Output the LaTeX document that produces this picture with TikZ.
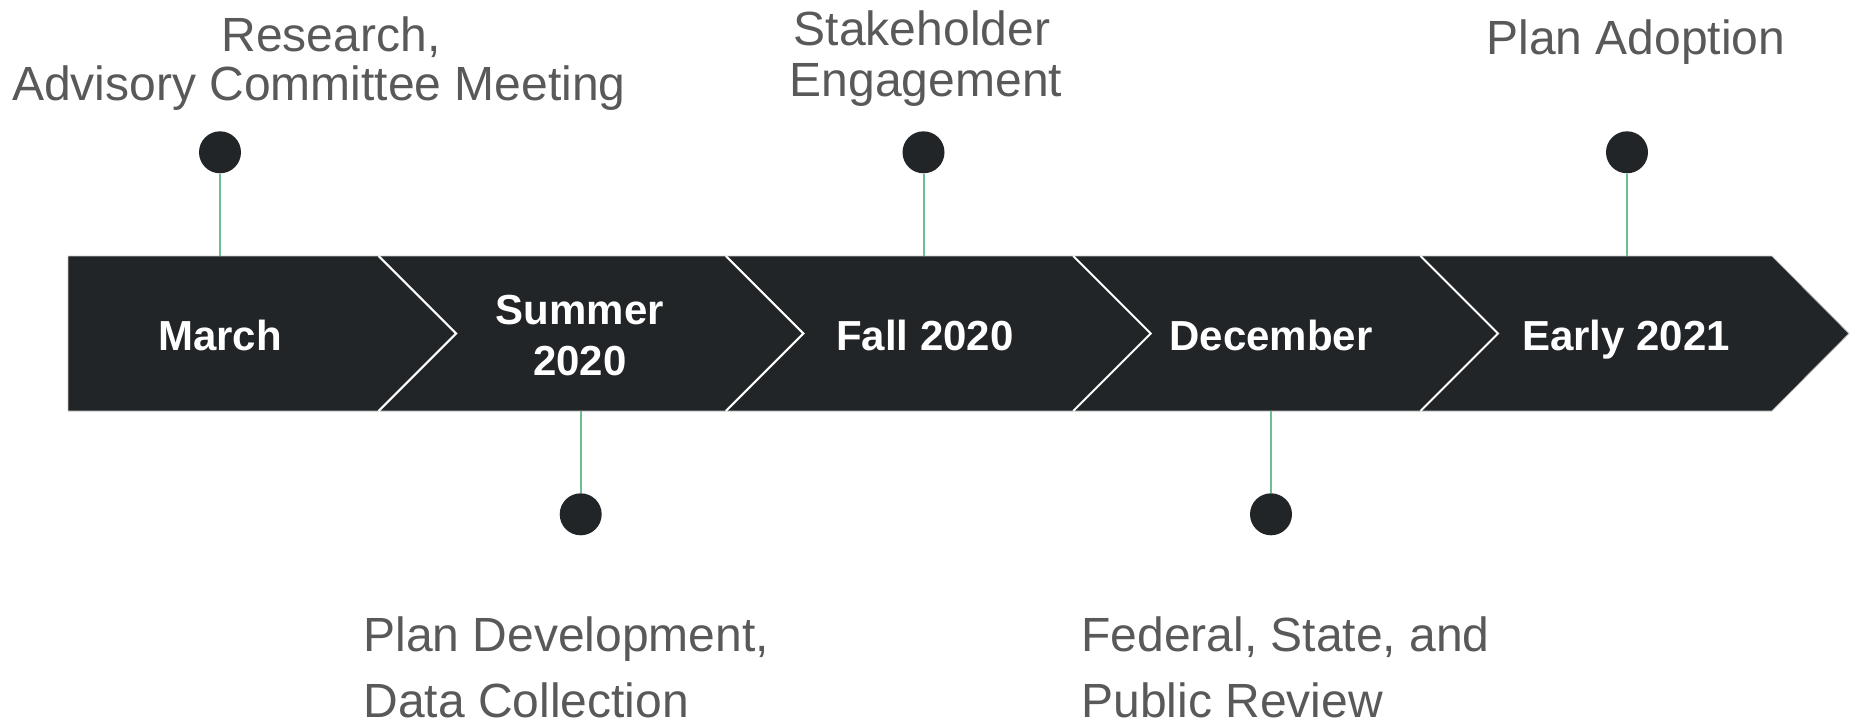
\documentclass[tikz,border=0pt]{standalone}
\usepackage{fontspec}
\setmainfont{Liberation Sans}
\begin{document}
\definecolor{bandfill}{HTML}{212527}
\definecolor{notegray}{HTML}{595959}
\definecolor{stemgreen}{HTML}{6DBF8F}
\begin{tikzpicture}[x=0.5pt,y=-0.5pt,
  note/.style={inner sep=0pt,anchor=base,text=notegray,font=\fontsize{24pt}{24pt}\selectfont},
  noteleft/.style={note,anchor=base west},
  period/.style={inner sep=0pt,anchor=base,text=white,font=\bfseries\fontsize{21pt}{22pt}\selectfont},
  marker/.style={circle,fill=bandfill,inner sep=0pt,minimum size=21pt},
  stem/.style={draw=stemgreen,line width=1pt},
  divider/.style={draw=white,line width=1pt,line join=miter}]
\useasboundingbox (0,0) rectangle (1859,723);

% timeline band with arrow tip
\fill[bandfill,draw=black!22,line width=0.4pt]
  (68,256) -- (1772,256) -- (1849,333.5) -- (1772,411) -- (68,411) -- cycle;
% chevron dividers between periods
\foreach \s in {378.6,725.9,1073.2,1420.5}
  \draw[divider] (\s,256) -- (\s+77.5,333.5) -- (\s,411);

% period labels
\node[period] (p1) at (220,350) {March};
\node[period] (p2a) at (580,324) {Summer};
\node[period] (p2b) at (580,375) {2020};
\node[period] (p3) at (925,350) {Fall 2020};
\node[period] (p4) at (1271,350) {December};
\node[period] (p5) at (1626,350) {Early 2021};

% attachment points on the band edges
\coordinate (e1) at (220,256);
\coordinate (e3) at (923.5,256);
\coordinate (e5) at (1627,256);
\coordinate (e2) at (580.7,411);
\coordinate (e4) at (1271,411);

% markers
\node[marker] (m1) at (220,152.3) {};
\node[marker] (m3) at (923.5,152.3) {};
\node[marker] (m5) at (1627,152.3) {};
\node[marker] (m2) at (580.7,514.3) {};
\node[marker] (m4) at (1271,514.3) {};

% stems
\draw[stem] (m1) -- (e1);
\draw[stem] (m3) -- (e3);
\draw[stem] (m5) -- (e5);
\draw[stem] (m2) -- (e2);
\draw[stem] (m4) -- (e4);

% milestone notes above the band
\node[note] (n1a) at (331,51.7) {Research,};
\node[note] (n1b) at (319,100) {Advisory Committee Meeting};
\node[note] (n3a) at (922,45.7) {Stakeholder};
\node[note] (n3b) at (926,96.7) {Engagement};
\node[note] (n5) at (1636,54.3) {Plan Adoption};

% milestone notes below the band
\node[noteleft] (n2a) at (363,651.7) {Plan Development,};
\node[noteleft] (n2b) at (363,717.3) {Data Collection};
\node[noteleft] (n4a) at (1081,651.7) {Federal, State, and};
\node[noteleft] (n4b) at (1081,717.3) {Public Review};
\end{tikzpicture}
\end{document}
